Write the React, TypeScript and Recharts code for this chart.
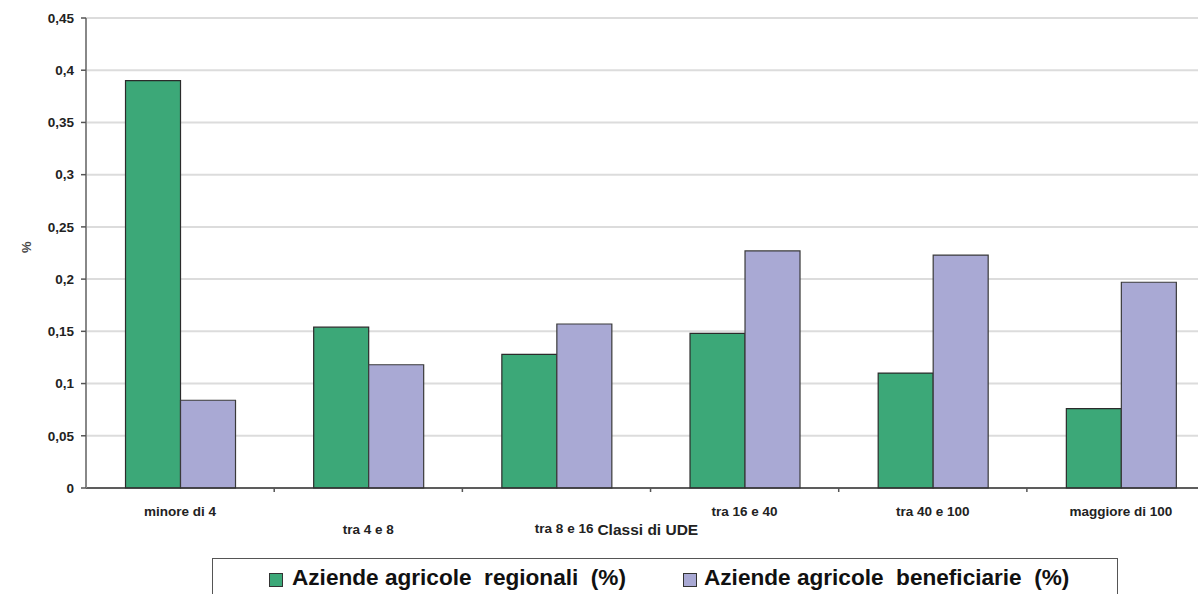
import React from "react";
import { BarChart, Bar, XAxis, YAxis, CartesianGrid } from "recharts";

const categories = [
  "minore di 4",
  "tra 4 e 8",
  "tra 8 e 16",
  "tra 16 e 40",
  "tra 40 e 100",
  "maggiore di 100",
];
const regionali = [0.39, 0.154, 0.128, 0.148, 0.11, 0.076];
const beneficiarie = [0.084, 0.118, 0.157, 0.227, 0.223, 0.197];
const yTicks = [0, 0.05, 0.1, 0.15, 0.2, 0.25, 0.3, 0.35, 0.4, 0.45];

const SERIES_REG = "Aziende agricole  regionali  (%)";
const SERIES_BEN = "Aziende agricole  beneficiarie  (%)";
const X_TITLE = "Classi di UDE";
const GREEN = "#3ca878";
const LILAC = "#a9a9d4";

const data = categories.map((name, i) => ({
  name,
  reg: regionali[i],
  ben: beneficiarie[i],
}));

const FONT = "'Liberation Sans', Arial, sans-serif";
const BAND = 188.25;
// labels in the original are staggered a bit
const labelDy = [28, 46, 45, 28, 28, 28];

const fmt = (v: number) => String(v).replace(".", ",");

function CatTick(props: any) {
  const { x, y, payload, index } = props;
  const textProps = {
    fontFamily: FONT,
    fontWeight: "bold" as const,
    fill: "#222",
  };
  return (
    <g>
      <line x1={x + BAND / 2} x2={x + BAND / 2} y1={y - 8} y2={y - 4} stroke="#555" strokeWidth={1.5} />
      {index === 2 ? (
        <>
          <text x={x + 37} y={y - 8 + labelDy[index]} textAnchor="end" fontSize={13.5} {...textProps}>
            {payload.value}
          </text>
          <text x={x + 41} y={y - 6 + labelDy[index]} textAnchor="start" fontSize={15.5} {...textProps}>
            {X_TITLE}
          </text>
        </>
      ) : (
        <text x={x} y={y - 8 + labelDy[index]} textAnchor="middle" fontSize={13.5} {...textProps}>
          {payload.value}
        </text>
      )}
    </g>
  );
}

function Swatch({ color }: { color: string }) {
  return (
    <span
      style={{
        position: "absolute",
        top: 14,
        width: 12,
        height: 12,
        background: color,
        border: "1px solid #333",
      }}
    />
  );
}

function LegendBox() {
  const label = (left: number, text: string) => (
    <span style={{ position: "absolute", left, top: 6 }}>{text}</span>
  );
  return (
    <div
      style={{
        position: "absolute",
        left: 212,
        top: 558,
        width: 906,
        height: 60,
        border: "1px solid #555",
        boxSizing: "border-box",
        fontFamily: FONT,
        fontWeight: "bold",
        fontSize: 22.6,
        color: "#111",
        whiteSpace: "pre",
      }}
    >
      <span style={{ position: "absolute", left: 56 }}>
        <Swatch color={GREEN} />
      </span>
      {label(79, SERIES_REG)}
      <span style={{ position: "absolute", left: 470 }}>
        <Swatch color={LILAC} />
      </span>
      {label(491, SERIES_BEN)}
    </div>
  );
}

export default function App() {
  return (
    <div
      style={{
        position: "absolute",
        left: 0,
        top: 0,
        width: 1198,
        height: 594,
        overflow: "hidden",
        background: "#fff",
      }}
    >
      <BarChart
        width={1240}
        height={594}
        data={data}
        margin={{ top: 18, right: 25, bottom: 46, left: 30 }}
        barCategoryGap="21%"
        barGap={0}
      >
        <CartesianGrid vertical={false} stroke="#dcdcdc" strokeWidth={2} />
        <XAxis
          dataKey="name"
          tick={<CatTick />}
          tickLine={false}
          axisLine={{ stroke: "#333", strokeWidth: 1.5 }}
          interval={0}
          height={60}
        />
        <YAxis
          domain={[0, 0.45]}
          ticks={yTicks}
          tickFormatter={fmt}
          width={56}
          axisLine={{ stroke: "#888", strokeWidth: 2 }}
          tickLine={{ stroke: "#555", strokeWidth: 1.5 }}
          tickSize={5}
          tickMargin={7}
          tick={{ fill: "#222", fontSize: 13.5, fontWeight: "bold", fontFamily: FONT }}
          label={{
            value: "%",
            angle: -90,
            position: "insideLeft",
            offset: -4,
            style: { fill: "#444", fontSize: 13, fontWeight: "bold", fontFamily: FONT },
          }}
        />
        <Bar dataKey="reg" name={SERIES_REG} fill={GREEN} stroke="#2b2b2b" strokeWidth={1.2} isAnimationActive={false} />
        <Bar dataKey="ben" name={SERIES_BEN} fill={LILAC} stroke="#3a3a3a" strokeWidth={1.2} isAnimationActive={false} />
      </BarChart>
      <LegendBox />
    </div>
  );
}
